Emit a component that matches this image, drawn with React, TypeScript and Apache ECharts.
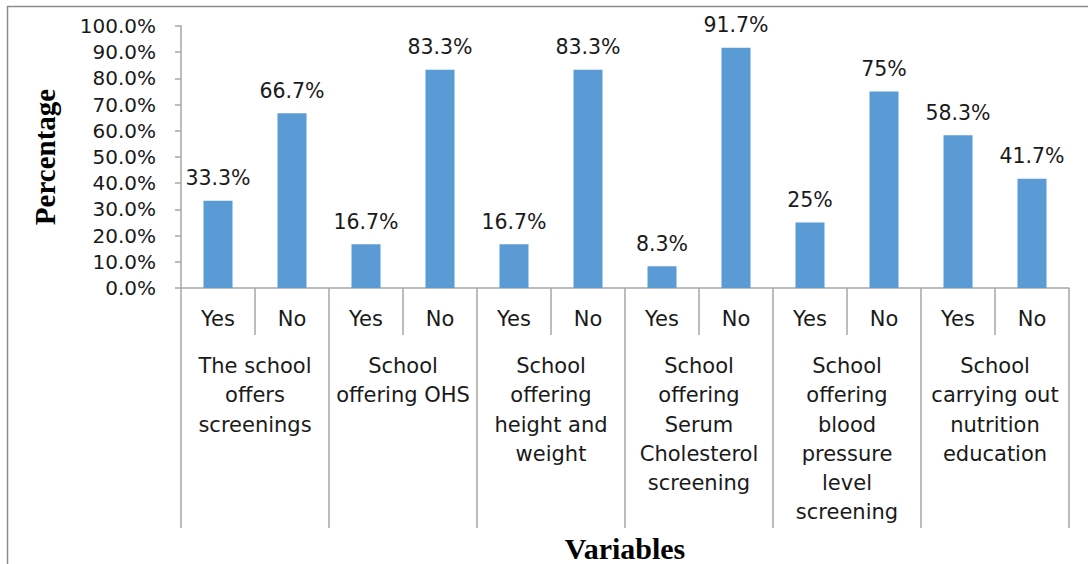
import React, { useEffect, useRef } from "react";
import * as echarts from "echarts";

// Answer categories along the lower axis, repeated for each variable
const answers: string[] = ["Yes", "No", "Yes", "No", "Yes", "No", "Yes", "No", "Yes", "No", "Yes", "No"];

// Variable groups (two answers per group)
const groups: string[] = [
  "The school\noffers\nscreenings",
  "School\noffering OHS",
  "School\noffering\nheight and\nweight",
  "School\noffering\nSerum\nCholesterol\nscreening",
  "School\noffering\nblood\npressure\nlevel\nscreening",
  "School\ncarrying out\nnutrition\neducation",
];

// Percentages for each Yes/No bar
const percentages: number[] = [33.3, 66.7, 16.7, 83.3, 16.7, 83.3, 8.3, 91.7, 25, 75, 58.3, 41.7];

// Labels printed above the bars
const valueLabels: string[] = ["33.3%", "66.7%", "16.7%", "83.3%", "16.7%", "83.3%", "8.3%", "91.7%", "25%", "75%", "58.3%", "41.7%"];

const W = 1088;
const H = 564;
const labelFont = "'DejaVu Sans', 'Open Sans', sans-serif";
const titleFont = "'Liberation Serif', 'DejaVu Serif', serif";
const axisGray = "#A6A6A6";
const textColor = "#1a1a1a";

export default function App() {
  const ref = useRef<HTMLDivElement>(null);

  useEffect(() => {
    document.body.style.margin = "0";
    if (!ref.current) return;
    const chart = echarts.init(ref.current, undefined, { renderer: "svg" });
    chart.setOption({
      animation: false,
      backgroundColor: "#ffffff",
      grid: { left: 181, right: 19, top: 26, bottom: 276, containLabel: false },
      xAxis: [
        {
          type: "category",
          data: answers,
          position: "bottom",
          axisLine: { show: true, lineStyle: { color: axisGray, width: 1.5 } },
          axisTick: { show: true, interval: 0, length: 47, lineStyle: { color: axisGray, width: 1.5 } },
          axisLabel: {
            interval: 0,
            fontFamily: labelFont,
            fontSize: 21,
            color: textColor,
            margin: 20,
          },
        },
        {
          type: "category",
          data: groups,
          position: "bottom",
          offset: 47,
          axisLine: { show: false },
          axisTick: { show: true, interval: 0, length: 193, lineStyle: { color: axisGray, width: 1.5 } },
          axisLabel: {
            interval: 0,
            fontFamily: labelFont,
            fontSize: 21,
            lineHeight: 29.2,
            color: textColor,
            margin: 16.5,
            align: "center",
          },
        },
      ],
      yAxis: {
        type: "value",
        min: 0,
        max: 100,
        interval: 10,
        axisLine: { show: true, lineStyle: { color: axisGray, width: 1.5 } },
        axisTick: { show: true, length: 6, lineStyle: { color: axisGray, width: 1.5 } },
        splitLine: { show: false },
        axisLabel: {
          fontFamily: labelFont,
          fontSize: 20,
          lineHeight: 22,
          color: textColor,
          margin: 25,
          formatter: (v: number) => v.toFixed(1) + "%",
        },
      },
      series: [
        {
          type: "bar",
          xAxisIndex: 0,
          data: percentages,
          barWidth: 29,
          itemStyle: { color: "#5B9BD5" },
          label: {
            show: true,
            position: "top",
            distance: 12,
            fontFamily: labelFont,
            fontSize: 20.5,
            color: textColor,
            formatter: (p: any) => valueLabels[p.dataIndex],
          },
        },
      ],
      graphic: [
        // frame lines along the top and left edge
        { type: "line", shape: { x1: 7, y1: 6.5, x2: W, y2: 6.5 }, style: { stroke: "#8c8c8c", lineWidth: 1.5 } },
        { type: "line", shape: { x1: 7.5, y1: 6, x2: 7.5, y2: H }, style: { stroke: "#8c8c8c", lineWidth: 1.5 } },
        {
          type: "text",
          x: 45,
          y: 157,
          rotation: Math.PI / 2,
          style: {
            text: "Percentage",
            font: `bold 29px ${titleFont}`,
            fill: "#000000",
            align: "center",
            verticalAlign: "middle",
          },
        },
        {
          type: "text",
          x: 625,
          y: 548,
          style: {
            text: "Variables",
            font: `bold 30px ${titleFont}`,
            fill: "#000000",
            align: "center",
            verticalAlign: "middle",
          },
        },
      ],
    });
    return () => chart.dispose();
  }, []);

  return <div ref={ref} style={{ width: W, height: H }} />;
}
